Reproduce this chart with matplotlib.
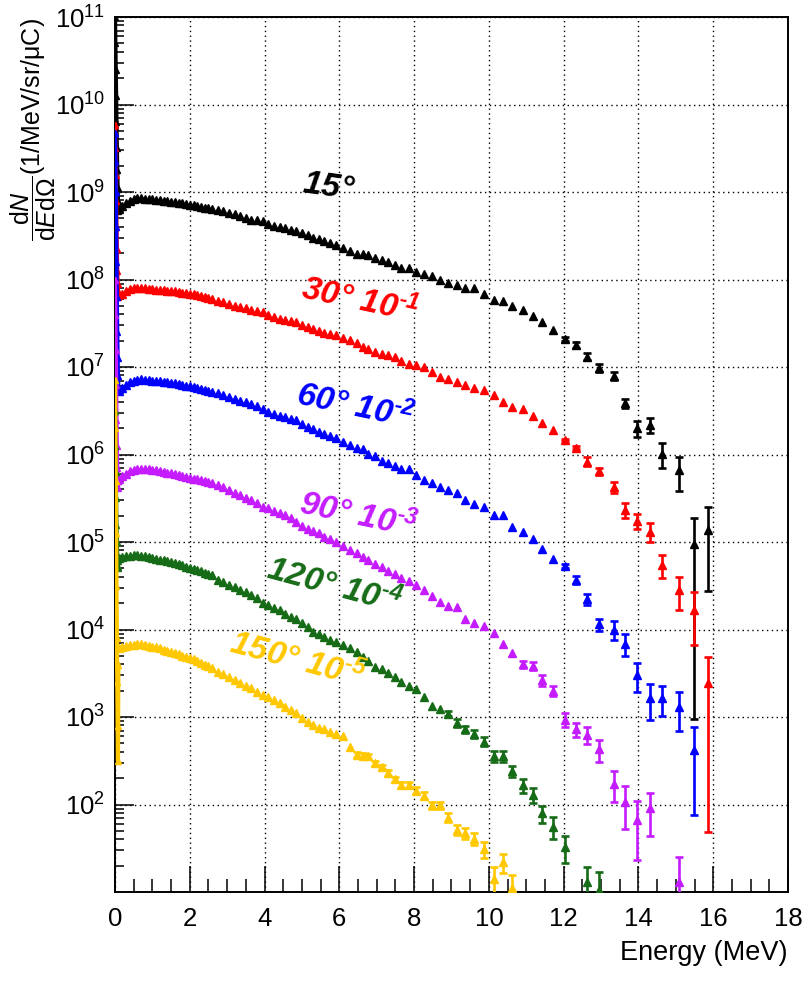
import matplotlib
matplotlib.use("Agg")
import matplotlib.pyplot as plt
import numpy as np
from matplotlib.ticker import FixedLocator, FuncFormatter, LogLocator, MultipleLocator, NullFormatter

plt.rcParams["font.family"] = ["Liberation Sans", "DejaVu Sans"]
plt.rcParams["mathtext.fontset"] = "custom"
plt.rcParams["mathtext.rm"] = "Liberation Sans"
plt.rcParams["mathtext.it"] = "Liberation Sans:italic"
plt.rcParams["mathtext.bf"] = "Liberation Sans:bold"
plt.rcParams["mathtext.bfit"] = "Liberation Sans:bold:italic"

# bin centres (MeV), shared by all angles
energy = [0.1, 0.2, 0.3, 0.4, 0.5, 0.6, 0.7, 0.8, 0.9, 1.0, 1.1, 1.2, 1.3, 1.4, 1.5,
          1.6, 1.7, 1.8, 1.9, 2.0, 2.1, 2.2, 2.3, 2.4, 2.5,
          2.6, 2.75, 2.9, 3.05, 3.2, 3.35, 3.5, 3.65, 3.8, 3.95, 4.1, 4.25, 4.4, 4.55,
          4.7, 4.85, 5.0, 5.15, 5.3, 5.45, 5.6, 5.75, 5.9,
          6.1, 6.28, 6.46, 6.64, 6.77, 6.95, 7.13, 7.31, 7.49, 7.66, 7.87, 8.05, 8.27,
          8.47, 8.69, 8.91, 9.14, 9.36, 9.6, 9.87, 10.13, 10.38, 10.63, 10.92, 11.17,
          11.41, 11.72, 12.03, 12.33, 12.63, 12.95, 13.34, 13.64, 13.97, 14.32, 14.64,
          15.08, 15.48, 15.86]

# low-energy spike bins (MeV)
spike_energy = [0.0, 0.01, 0.02, 0.03, 0.04, 0.05, 0.06, 0.07, 0.08, 0.09]

nan = float("nan")

# log10 of dN/dEdOmega (already scaled by the factor in the label)
log_15 = [8.80, 8.84, 8.87, 8.90, 8.92, 8.93, 8.93, 8.925, 8.92, 8.915, 8.91, 8.905, 8.90,
          8.895, 8.89, 8.885, 8.875, 8.87, 8.86, 8.855, 8.85, 8.84, 8.83, 8.82, 8.815,
          8.805, 8.795, 8.78, 8.765, 8.745, 8.725, 8.70, 8.685, 8.675, 8.665, 8.64, 8.615,
          8.595, 8.585, 8.57, 8.555, 8.535, 8.51, 8.48, 8.46, 8.44, 8.415, 8.39,
          8.36, 8.33, 8.29, 8.29, 8.28, 8.25, 8.22, 8.20, 8.17, 8.135, 8.135, 8.09, 8.06,
          8.04, 8.00, 7.955, 7.94, 7.90, 7.90, 7.84, 7.77, 7.75, 7.70, 7.65, 7.58, 7.51,
          7.42, 7.32, 7.25, 7.12, 6.99, 6.90, 6.585, 6.30, 6.34, 6.01, 5.82, 4.98, 5.14]
log_30 = [7.83, 7.84, 7.87, 7.89, 7.90, 7.905, 7.905, 7.90, 7.895, 7.89, 7.885, 7.88, 7.875,
          7.87, 7.87, 7.865, 7.86, 7.85, 7.845, 7.84, 7.83, 7.82, 7.81, 7.80, 7.79,
          7.78, 7.76, 7.74, 7.72, 7.70, 7.685, 7.67, 7.65, 7.64, 7.63, 7.60, 7.57, 7.55,
          7.535, 7.525, 7.51, 7.48, 7.46, 7.44, 7.415, 7.39, 7.38, 7.365,
          7.33, 7.31, 7.27, 7.23, 7.21, 7.175, 7.15, 7.14, 7.12, 7.07, 7.04, 7.02, 6.995,
          6.945, 6.89, 6.86, 6.83, 6.79, 6.755, 6.74, 6.68, 6.60, 6.54, 6.515, 6.44,
          6.355, 6.28, 6.165, 6.08, 5.92, 5.81, 5.625, 5.37, 5.24, 5.12, 4.74, 4.45,
          4.22, 3.385]
log_60 = [6.73, 6.76, 6.80, 6.83, 6.845, 6.855, 6.86, 6.855, 6.85, 6.845, 6.84, 6.835, 6.83,
          6.825, 6.82, 6.815, 6.805, 6.795, 6.785, 6.78, 6.77, 6.76, 6.75, 6.74, 6.73,
          6.72, 6.70, 6.68, 6.66, 6.635, 6.615, 6.595, 6.575, 6.55, 6.515, 6.49, 6.465,
          6.445, 6.425, 6.405, 6.39, 6.345, 6.31, 6.29, 6.26, 6.23, 6.21, 6.19,
          6.145, 6.11, 6.07, 6.06, 6.01, 5.98, 5.925, 5.90, 5.87, 5.83, 5.83, 5.765, 5.71,
          5.67, 5.625, 5.595, 5.555, 5.48, 5.43, 5.395, 5.31, 5.31, 5.17, 5.12, 5.03,
          4.92, 4.81, 4.73, 4.57, 4.345, 4.06, 4.0, 3.84, 3.48, 3.215, 3.215, 3.12,
          2.62, nan]
log_90 = [5.72, 5.75, 5.78, 5.81, 5.825, 5.835, 5.84, 5.84, 5.835, 5.825, 5.82, 5.81, 5.80,
          5.79, 5.785, 5.775, 5.765, 5.755, 5.745, 5.735, 5.725, 5.72, 5.71, 5.70, 5.69,
          5.68, 5.65, 5.625, 5.60, 5.565, 5.535, 5.505, 5.48, 5.45, 5.405, 5.385, 5.36,
          5.33, 5.305, 5.27, 5.23, 5.185, 5.15, 5.125, 5.10, 5.06, 5.03, 5.00,
          4.95, 4.91, 4.88, 4.83, 4.80, 4.75, 4.72, 4.67, 4.635, 4.585, 4.55, 4.51, 4.45,
          4.38, 4.32, 4.27, 4.255, 4.12, 4.08, 4.04, 3.955, 3.84, 3.735, 3.605, 3.585,
          3.42, 3.30, 2.97, 2.86, 2.80, 2.63, 2.24, 2.03, 1.82, 1.955, nan, 1.12,
          nan, nan]
log_120 = [4.82, 4.83, 4.84, 4.845, 4.85, 4.85, 4.845, 4.835, 4.825, 4.815, 4.81, 4.80, 4.79,
           4.78, 4.775, 4.765, 4.75, 4.735, 4.72, 4.705, 4.695, 4.68, 4.665, 4.65, 4.635,
           4.62, 4.57, 4.54, 4.51, 4.485, 4.455, 4.425, 4.395, 4.355, 4.30, 4.275, 4.25,
           4.22, 4.175, 4.14, 4.115, 4.08, 4.03, 3.975, 3.945, 3.92, 3.885, 3.86,
           3.82, 3.785, 3.745, 3.69, 3.645, 3.575, 3.545, 3.50, 3.455, 3.405, 3.36, 3.315,
           3.23, 3.125, 3.09, 3.04, 2.935, 2.86, 2.81, 2.72, 2.555, 2.55, 2.385, 2.22,
           2.11, 1.90, 1.745, 1.515, nan, 1.12, 1.02, nan, nan, nan, nan, nan, nan, nan, nan]
log_150 = [3.79, 3.80, 3.81, 3.82, 3.825, 3.83, 3.83, 3.825, 3.815, 3.805, 3.795, 3.785, 3.77,
           3.76, 3.745, 3.73, 3.715, 3.70, 3.69, 3.675, 3.66, 3.64, 3.62, 3.60, 3.58,
           3.565, 3.52, 3.49, 3.46, 3.42, 3.39, 3.36, 3.33, 3.29, 3.25, 3.225, 3.19, 3.16,
           3.11, 3.08, 3.05, 2.99, 2.94, 2.91, 2.875, 2.86, 2.83, 2.81,
           2.78, 2.66, 2.57, 2.56, 2.55, 2.47, 2.43, 2.36, 2.29, 2.22, 2.22, 2.16, 2.10,
           1.99, 1.99, 1.85, 1.71, 1.67, 1.61, 1.49, 1.15, 1.34, 1.05,
           nan, nan, nan, nan, nan, nan, nan, nan, nan, nan, nan, nan, nan, nan, nan, nan]

# relative errors of the last bins (counted from the high-energy end)
relerr_15 = [0.06, 0.08, 0.09, 0.1, 0.1, 0.12, 0.21, 0.2, 0.32, 0.42, 0.99, 0.8]
relerr_30 = [0.03, 0.04, 0.12, 0.09, 0.15, 0.19, 0.19, 0.25, 0.3, 0.41, 0.6, 0.98]
relerr_60 = [0.05, 0.1, 0.15, 0.16, 0.24, 0.28, 0.36, 0.44, 0.38, 0.47, 0.82, 0]
relerr_90 = [0.09, 0.11, 0.14, 0.14, 0.18, 0.18, 0.22, 0.29, 0.39, 0.51, 0.65, 0.52,
             0, 0.92, 0, 0]
relerr_120 = [0.06, 0.1, 0.1, 0.1, 0.12, 0.14, 0.14, 0.15, 0.18, 0.2, 0.22, 0.28, 0.35,
              0, 0.45, 0.6, 0, 0, 0, 0, 0, 0, 0, 0]
relerr_150 = [0.07, 0.07, 0.07, 0.06, 0.06, 0.07, 0.07, 0.08, 0.08, 0.09, 0.09, 0.1, 0.1,
              0.12, 0.13, 0.14, 0.16, 0.2, 0.35, 0.25, 0.4,
              0, 0, 0, 0, 0, 0, 0, 0, 0, 0, 0, 0, 0, 0, 0, 0]

# log10 of the spike below 0.1 MeV
spike_15 = [11.0, 10.7, 10.4, 10.1, 9.8, 9.5, 9.25, 9.05, 8.9, 8.78]
spike_30 = [9.77, 9.5, 9.2, 8.9, 8.6, 8.35, 8.1, 7.95, 7.85, 7.80]
spike_60 = [9.67, 9.35, 9.0, 8.6, 8.2, 7.8, 7.4, 7.1, 6.9, 6.75]
spike_90 = [8.0, 7.6, 7.2, 6.8, 6.4, 6.1, 5.85, 5.7, 5.62, 5.7]
spike_120 = [6.5, 6.1, 5.8, 5.5, 5.2, 5.0, 4.85, 4.72, 4.7, 4.78]
spike_150 = [6.85, 6.3, 5.7, 5.1, 4.5, 3.9, 3.4, 2.9, 2.5, 3.6]

labels = ["15°", "30°\\ 10^{‐1}", "60°\\ 10^{‐2}", "90°\\ 10^{‐3}", "120°\\ 10^{‐4}",
          "150°\\ 10^{‐5}"]
colors = ["black", "#ff0000", "#0000ff", "#c41cff", "#166b16", "#ffc800"]

fig = plt.figure(figsize=(8.04, 9.81), dpi=100)
ax = fig.add_axes([115 / 804, 1 - 892 / 981, 673 / 804, 875 / 981])

all_series = [
    (log_15, relerr_15, spike_15),
    (log_30, relerr_30, spike_30),
    (log_60, relerr_60, spike_60),
    (log_90, relerr_90, spike_90),
    (log_120, relerr_120, spike_120),
    (log_150, relerr_150, spike_150),
]

e = np.array(energy)
for (logv, rel, spike), color in zip(all_series, colors):
    vals = 10 ** np.array(logv)
    err = np.zeros(len(e))
    err[len(e) - len(rel):] = rel
    ax.plot(spike_energy, 10 ** np.array(spike), color=color, lw=3,
            marker="^", ms=4.5, zorder=3)
    ax.plot(e, vals, ls="none", marker="^", ms=5.5, color=color, zorder=3)
    m = (err > 0) & np.isfinite(vals)
    yerr = vals[m] * err[m]
    ax.errorbar(e[m], vals[m], yerr=[np.minimum(yerr, vals[m] * 0.999), yerr],
                fmt="none", ecolor=color, elinewidth=1.9, capsize=3.2,
                capthick=1.9, zorder=3)

# angle annotations (data coordinates)
label_x = [5.70, 6.55, 6.42, 6.50, 5.86, 4.87]
label_y = [1.14e9, 5.8e7, 3.5e6, 2.0e5, 3.1e4, 4.5e3]
label_rot = [-8, -12, -12, -12, -15, -15]
for txt, color, lx, ly, rot in zip(labels, colors, label_x, label_y, label_rot):
    ax.text(lx, ly, "$\\mathbfit{" + txt + "}$", color=color, fontsize=24,
            rotation=rot, rotation_mode="anchor", ha="center", va="center", zorder=4)

ax.set_xlim(0, 18)
ax.set_yscale("log")
ax.set_ylim(10, 1e11)

ax.xaxis.set_major_locator(MultipleLocator(2))
ax.xaxis.set_minor_locator(MultipleLocator(0.5))
ax.yaxis.set_major_locator(FixedLocator([10.0 ** k for k in range(2, 12)]))
ax.yaxis.set_major_formatter(FuncFormatter(lambda v, p: "$10^{%d}$" % round(np.log10(v))))
ax.yaxis.set_minor_locator(LogLocator(base=10, subs=np.arange(2, 10), numticks=20))
ax.yaxis.set_minor_formatter(NullFormatter())

ax.grid(True, which="major", color="black", linestyle=(0, (1, 2.5)), lw=1.0)
ax.tick_params(which="both", direction="in", top=False, right=False, width=1.1,
               labelsize=18.5, colors="black")
ax.tick_params(axis="x", which="major", length=19, pad=11)
ax.tick_params(axis="x", which="minor", length=9.5)
ax.tick_params(axis="y", which="major", length=13.5, pad=7)
ax.tick_params(axis="y", which="minor", length=6.5)
for s in ax.spines.values():
    s.set_linewidth(1.4)

fig.text(788 / 804, 1 - 953 / 981, "Energy (MeV)", ha="right", va="center", fontsize=19.5)
fig.text(33 / 804, 1 - 18 / 981,
         r"$\dfrac{\mathrm{d}N}{\mathrm{d}E\mathrm{d}\Omega}$(1/MeV/sr/μC)",
         rotation=90, ha="center", va="top", fontsize=18)

fig.savefig("out.png", dpi=100)
